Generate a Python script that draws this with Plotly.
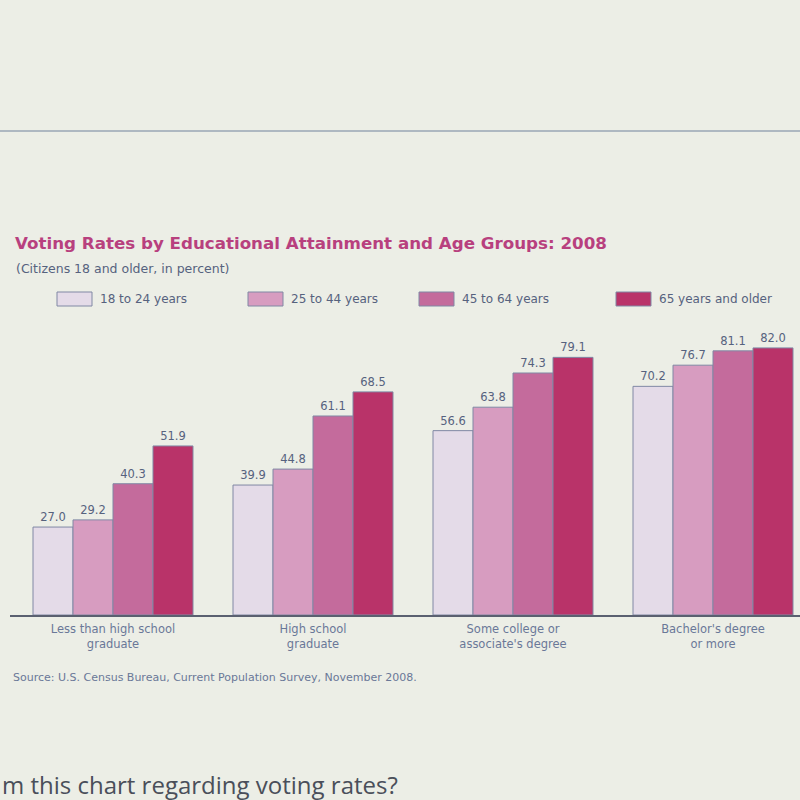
import plotly.graph_objects as go

categories = ["Less than high school<br>graduate", "High school<br>graduate",
              "Some college or<br>associate's degree", "Bachelor's degree<br>or more"]
series_names = ["18 to 24 years", "25 to 44 years", "45 to 64 years", "65 years and older"]
age_18_24 = [27.0, 39.9, 56.6, 70.2]
age_25_44 = [29.2, 44.8, 63.8, 76.7]
age_45_64 = [40.3, 61.1, 74.3, 81.1]
age_65_up = [51.9, 68.5, 79.1, 82.0]
series_values = [age_18_24, age_25_44, age_45_64, age_65_up]
colors = ["#e4dbe8", "#d79cc0", "#c46b9c", "#b93369"]

W, H = 800, 800
L, R, T, B = 10, 0, 330, 185
SMALL = "DejaVu Sans"
TXT = "#56627e"

def px_x(X):
    return (X - L) / (W - L - R)

def px_y(Y):
    return (H - B - Y) / (H - T - B)

fig = go.Figure()
for name, vals, col in zip(series_names, series_values, colors):
    fig.add_trace(go.Bar(
        x=categories, y=vals, name=name,
        marker=dict(color=col, line=dict(color="#8088a4", width=1)),
        text=[f"{v:.1f}" for v in vals], textposition="outside",
        textfont=dict(size=11.5, color=TXT, family=SMALL),
        cliponaxis=False, showlegend=False,
    ))

shapes = []
annotations = []
# page separator line
shapes.append(dict(type="line", xref="paper", yref="paper",
                   x0=px_x(0), x1=px_x(800), y0=px_y(131), y1=px_y(131),
                   line=dict(color="#9aa6b4", width=1.5)))
# legend swatches
leg_x = [57, 248, 419, 616]
for lx, name, col in zip(leg_x, series_names, colors):
    shapes.append(dict(type="rect", xref="paper", yref="paper",
                       x0=px_x(lx), x1=px_x(lx + 35), y0=px_y(306), y1=px_y(292),
                       fillcolor=col, line=dict(color="#8088a4", width=1)))
    annotations.append(dict(xref="paper", yref="paper", x=px_x(lx + 41), y=px_y(299),
                            text=name, showarrow=False, xanchor="left", yanchor="middle",
                            font=dict(size=12, color=TXT, family=SMALL)))
annotations.append(dict(xref="paper", yref="paper", x=px_x(13), y=px_y(243),
                        text="<b>Voting Rates by Educational Attainment and Age Groups: 2008</b>",
                        showarrow=False, xanchor="left", yanchor="middle",
                        font=dict(size=16.7, color="#b8407e", family="DejaVu Sans")))
annotations.append(dict(xref="paper", yref="paper", x=px_x(14), y=px_y(268),
                        text="(Citizens 18 and older, in percent)",
                        showarrow=False, xanchor="left", yanchor="middle",
                        font=dict(size=12.5, color=TXT, family=SMALL)))
annotations.append(dict(xref="paper", yref="paper", x=px_x(11), y=px_y(677),
                        text="Source: U.S. Census Bureau, Current Population Survey, November 2008.",
                        showarrow=False, xanchor="left", yanchor="middle",
                        font=dict(size=11, color="#6a7898", family=SMALL)))
annotations.append(dict(xref="paper", yref="paper", x=px_x(0), y=px_y(784),
                        text="m this chart regarding voting rates?",
                        showarrow=False, xanchor="left", yanchor="middle",
                        font=dict(size=24, color="#4a4f5a", family="Open Sans")))

fig.update_layout(
    width=W, height=H,
    margin=dict(l=L, r=R, t=T, b=B),
    paper_bgcolor="#eceee6", plot_bgcolor="rgba(0,0,0,0)",
    barmode="group", bargap=0.2, bargroupgap=0,
    shapes=shapes, annotations=annotations,
    xaxis=dict(range=[-0.515, 3.435], showgrid=False, ticks="", showline=True,
               linecolor="#5a6070", linewidth=1.5, ticklabelstandoff=2,
               tickfont=dict(size=11.5, color="#6a7898", family=SMALL)),
    yaxis=dict(range=[0, 87.5], visible=False),
    font=dict(family=SMALL),
)
fig.write_html("out.html", config={"displayModeBar": False},
               post_script="document.body.style.margin='0';document.body.style.background='#eceee6';")
